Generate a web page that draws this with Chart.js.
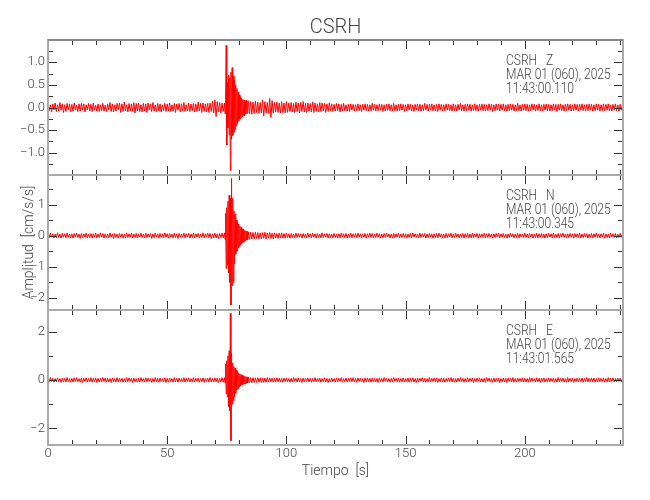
<!DOCTYPE html>
<html>
<head>
<meta charset="utf-8">
<script src="https://cdn.jsdelivr.net/npm/chart.js@4"></script>
<style>
  html, body { margin: 0; padding: 0; background: #fff; }
  #wrap { width: 650px; height: 500px; }
</style>
</head>
<body>
<div id="wrap"><canvas id="seis" width="650" height="500"></canvas></div>
<script>
// traces are stored in three pieces: before the event, the event itself
// (sampled more finely) and the coda / rest of the record
const beforeInterval = 0.5;   // s, from 0 s
const eventStart = 74;        // s
const eventInterval = 0.25;   // s
const afterStart = 84;        // s
const afterInterval = 0.5;    // s
const timeMax = 241.2;

const chartTitle = 'CSRH';
const xTitle = 'Tiempo  [s]';
const yTitle = 'Amplitud  [cm/s/s]';

const channelNames = ['CSRH   Z', 'CSRH   N', 'CSRH   E'];
const channelDates = ['MAR 01 (060), 2025', 'MAR 01 (060), 2025', 'MAR 01 (060), 2025'];
const channelStarts = ['11:43:00.110', '11:43:00.345', '11:43:01.565'];

// ---- vertical component (cm/s/s) ----
const zBefore = [
  0.09,-0.07,0.06,-0.1,0.08,-0.05,0.1,-0.09,0.06,-0.08,0.11,-0.06,0.08,-0.11,0.06,-0.09,0.09,-0.05,0.08,-0.1,
  0.07,-0.08,0.1,-0.06,0.05,-0.09,0.08,-0.08,0.09,-0.06,0.08,-0.1,0.06,-0.05,0.09,-0.08,0.07,-0.09,0.1,-0.06,
  0.05,-0.08,0.08,-0.09,0.06,-0.07,0.09,-0.08,0.05,-0.09,0.08,-0.06,0.11,-0.09,0.08,-0.1,0.06,-0.08,0.09,-0.05,
  0.1,-0.11,0.08,-0.09,0.12,-0.08,0.06,-0.1,0.09,-0.08,0.08,-0.09,0.11,-0.12,0.09,-0.08,0.1,-0.09,0.06,-0.1,
  0.09,-0.08,0.08,-0.11,0.1,-0.06,0.08,-0.09,0.11,-0.08,0.06,-0.09,0.09,-0.08,0.08,-0.1,0.06,-0.07,0.09,-0.09,
  0.08,-0.08,0.1,-0.09,0.06,-0.08,0.09,-0.11,0.08,-0.06,0.09,-0.1,0.08,-0.08,0.11,-0.09,0.06,-0.08,0.1,-0.09,
  0.08,-0.07,0.09,-0.1,0.08,-0.09,0.12,-0.08,0.09,-0.11,0.1,-0.09,0.08,-0.1,0.09,-0.11,0.1,-0.09,0.14,-0.12,
  0.17,-0.2,0.13,-0.1,0.11,-0.12,0.1,-0.09
];
const zEvent = [
  0.1,-0.14,0.18,1.37,-0.83,0.55,-0.45,0.72,-0.6,0.65,
  -1.39,0.78,-0.7,0.88,-0.62,0.7,-0.55,0.6,-0.48,0.5,
  -0.4,0.42,-0.35,0.34,-0.3,0.28,-0.26,0.24,-0.22,0.2,
  -0.2,0.18,-0.17,0.16,-0.18,0.15,-0.14,0.16,-0.13,0.14
];
const zAfter = [
  0.15,-0.14,0.13,-0.15,0.12,-0.13,0.14,-0.11,0.12,-0.13,0.11,-0.12,
  0.17,-0.19,0.13,-0.12,0.11,-0.13,0.2,-0.22,0.15,-0.12,0.11,-0.1,0.12,-0.11,0.1,-0.12,0.13,-0.11,0.1,-0.12,
  0.13,-0.11,0.1,-0.09,0.11,-0.1,0.09,-0.11,0.12,-0.09,0.1,-0.12,0.11,-0.09,0.13,-0.1,0.09,-0.11,0.1,-0.08,
  0.09,-0.1,0.12,-0.11,0.1,-0.09,0.08,-0.1,0.11,-0.09,0.1,-0.08,0.09,-0.11,0.08,-0.09,0.1,-0.07,0.08,-0.09,
  0.07,-0.08,0.09,-0.07,0.08,-0.1,0.07,-0.08,0.09,-0.07,0.06,-0.08,0.07,-0.09,0.08,-0.06,0.07,-0.08,0.06,-0.07,
  0.08,-0.07,0.06,-0.09,0.07,-0.06,0.08,-0.07,0.07,-0.08,0.06,-0.07,0.09,-0.06,0.07,-0.08,0.06,-0.07,0.08,-0.06,
  0.07,-0.09,0.06,-0.08,0.07,-0.06,0.08,-0.07,0.06,-0.08,0.09,-0.07,0.06,-0.08,0.07,-0.07,0.08,-0.06,0.07,-0.09,
  0.06,-0.07,0.08,-0.06,0.07,-0.08,0.06,-0.09,0.07,-0.06,0.08,-0.07,0.07,-0.08,0.06,-0.07,0.09,-0.06,0.07,-0.08,
  0.07,-0.06,0.08,-0.07,0.06,-0.08,0.07,-0.09,0.08,-0.06,0.07,-0.08,0.06,-0.07,0.08,-0.06,0.07,-0.07,0.06,-0.08,
  0.08,-0.07,0.06,-0.08,0.07,-0.06,0.09,-0.07,0.06,-0.08,0.07,-0.07,0.08,-0.06,0.07,-0.08,0.06,-0.07,0.08,-0.07,
  0.06,-0.08,0.07,-0.06,0.08,-0.07,0.07,-0.08,0.06,-0.07,0.08,-0.06,0.07,-0.09,0.06,-0.07,0.08,-0.06,0.07,-0.08,
  0.07,-0.06,0.08,-0.07,0.06,-0.08,0.07,-0.07,0.08,-0.06,0.07,-0.08,0.06,-0.07,0.09,-0.07,0.06,-0.08,0.07,-0.06,
  0.08,-0.07,0.07,-0.08,0.06,-0.07,0.08,-0.06,0.07,-0.08,0.06,-0.07,0.08,-0.07,0.06,-0.08,0.07,-0.06,0.08,-0.07,
  0.07,-0.08,0.06,-0.07,0.08,-0.06,0.07,-0.09,0.07,-0.06,0.08,-0.07,0.06,-0.08,0.07,-0.07,0.08,-0.06,0.07,-0.08,
  0.06,-0.07,0.08,-0.06,0.07,-0.08,0.07,-0.06,0.08,-0.07,0.06,-0.08,0.07,-0.07,0.08,-0.06,0.07,-0.08,0.06,-0.07,
  0.08,-0.06,0.07,-0.08,0.06,-0.07,0.08,-0.07,0.07,-0.06,0.08,-0.07,0.06,-0.08,0.07,-0.06,0.08,-0.07,0.06,-0.08,
  0.07,-0.06,0.07
];

// ---- north component ----
const nBefore = [
  0.07,-0.06,0.08,-0.05,0.06,-0.08,0.05,-0.07,0.09,-0.06,0.05,-0.08,0.07,-0.05,0.06,-0.07,0.08,-0.06,0.05,-0.07,
  0.06,-0.08,0.07,-0.05,0.08,-0.06,0.05,-0.09,0.07,-0.06,0.06,-0.05,0.08,-0.07,0.05,-0.06,0.07,-0.08,0.06,-0.05,
  0.08,-0.07,0.05,-0.06,0.09,-0.05,0.07,-0.08,0.06,-0.06,0.05,-0.07,0.08,-0.05,0.06,-0.09,0.07,-0.06,0.05,-0.08,
  0.07,-0.05,0.06,-0.08,0.05,-0.07,0.09,-0.06,0.06,-0.05,0.08,-0.07,0.05,-0.06,0.07,-0.08,0.06,-0.05,0.08,-0.06,
  0.05,-0.07,0.08,-0.06,0.06,-0.05,0.07,-0.09,0.05,-0.06,0.08,-0.05,0.06,-0.08,0.07,-0.06,0.05,-0.07,0.09,-0.05,
  0.06,-0.08,0.07,-0.05,0.05,-0.07,0.08,-0.06,0.06,-0.09,0.07,-0.05,0.05,-0.06,0.08,-0.07,0.06,-0.05,0.07,-0.08,
  0.05,-0.06,0.08,-0.07,0.06,-0.05,0.07,-0.08,0.05,-0.06,0.09,-0.07,0.06,-0.05,0.08,-0.06,0.07,-0.09,0.06,-0.07,
  0.08,-0.07,0.06,-0.09,0.07,-0.06,0.08,-0.07
];
const nEvent = [
  0.09,-0.12,0.72,-1.06,0.9,-0.95,1.1,-1.2,1.3,-1.5,
  1.2,-2.23,1.84,-1.6,1.2,-1.5,0.8,-0.9,0.7,-0.6,
  0.5,-0.5,0.45,-0.4,0.38,-0.35,0.3,-0.3,0.27,-0.25,
  0.22,-0.22,0.2,-0.18,0.17,-0.17,0.15,-0.14,0.14,-0.13
];
const nAfter = [
  0.12,-0.12,0.11,-0.11,0.1,-0.1,0.11,-0.09,0.1,-0.1,0.09,-0.1,
  0.1,-0.09,0.11,-0.1,0.09,-0.08,0.1,-0.09,0.08,-0.1,0.09,-0.08,0.07,-0.09,0.08,-0.07,0.09,-0.08,0.07,-0.08,
  0.08,-0.07,0.06,-0.08,0.07,-0.06,0.05,-0.07,0.08,-0.06,0.07,-0.05,0.06,-0.08,0.07,-0.06,0.05,-0.07,0.08,-0.06,
  0.06,-0.07,0.08,-0.05,0.06,-0.08,0.07,-0.06,0.05,-0.07,0.09,-0.06,0.06,-0.05,0.07,-0.08,0.06,-0.06,0.05,-0.07,
  0.07,-0.06,0.05,-0.08,0.06,-0.07,0.08,-0.05,0.06,-0.06,0.07,-0.08,0.05,-0.06,0.08,-0.07,0.06,-0.05,0.07,-0.06,
  0.08,-0.05,0.06,-0.07,0.05,-0.06,0.07,-0.08,0.06,-0.05,0.08,-0.06,0.07,-0.07,0.05,-0.06,0.08,-0.05,0.06,-0.08,
  0.05,-0.07,0.07,-0.06,0.08,-0.05,0.06,-0.07,0.05,-0.08,0.07,-0.06,0.06,-0.05,0.08,-0.07,0.05,-0.06,0.07,-0.05,
  0.06,-0.08,0.05,-0.06,0.07,-0.07,0.08,-0.05,0.06,-0.06,0.05,-0.07,0.08,-0.06,0.06,-0.05,0.07,-0.08,0.05,-0.06,
  0.07,-0.05,0.06,-0.08,0.05,-0.06,0.07,-0.07,0.08,-0.05,0.06,-0.06,0.05,-0.08,0.07,-0.06,0.06,-0.05,0.08,-0.07,
  0.05,-0.06,0.08,-0.05,0.06,-0.07,0.05,-0.06,0.07,-0.08,0.06,-0.05,0.07,-0.06,0.05,-0.07,0.08,-0.06,0.06,-0.05,
  0.07,-0.08,0.06,-0.05,0.05,-0.06,0.08,-0.07,0.06,-0.06,0.07,-0.05,0.05,-0.08,0.06,-0.06,0.07,-0.05,0.08,-0.07,
  0.06,-0.05,0.07,-0.06,0.05,-0.08,0.06,-0.06,0.08,-0.05,0.06,-0.07,0.05,-0.06,0.07,-0.08,0.06,-0.05,0.05,-0.06,
  0.08,-0.06,0.05,-0.07,0.07,-0.05,0.06,-0.08,0.05,-0.06,0.08,-0.07,0.06,-0.05,0.07,-0.06,0.05,-0.08,0.06,-0.06,
  0.07,-0.05,0.06,-0.07,0.08,-0.06,0.05,-0.06,0.07,-0.08,0.06,-0.05,0.08,-0.06,0.05,-0.07,0.06,-0.06,0.07,-0.05,
  0.06,-0.08,0.07,-0.05,0.06,-0.06,0.08,-0.07,0.05,-0.06,0.07,-0.05,0.06,-0.08,0.05,-0.06,0.07,-0.07,0.06,-0.05,
  0.08,-0.06,0.05,-0.07,0.06,-0.05,0.07,-0.08,0.06,-0.06,0.05,-0.07,0.08,-0.05,0.06,-0.06,0.07,-0.08,0.05,-0.06,
  0.07,-0.05,0.06
];

// ---- east component ----
const eBefore = [
  0.08,-0.07,0.1,-0.06,0.07,-0.09,0.06,-0.08,0.09,-0.07,0.06,-0.1,0.08,-0.06,0.07,-0.08,0.1,-0.07,0.06,-0.09,
  0.07,-0.08,0.09,-0.06,0.1,-0.07,0.06,-0.09,0.08,-0.1,0.07,-0.06,0.09,-0.08,0.06,-0.07,0.1,-0.09,0.07,-0.06,
  0.09,-0.1,0.07,-0.08,0.06,-0.07,0.1,-0.06,0.08,-0.09,0.07,-0.08,0.06,-0.1,0.09,-0.07,0.06,-0.08,0.1,-0.07,
  0.08,-0.06,0.07,-0.09,0.06,-0.08,0.1,-0.07,0.09,-0.06,0.07,-0.1,0.08,-0.07,0.06,-0.09,0.07,-0.08,0.1,-0.06,
  0.06,-0.08,0.09,-0.07,0.08,-0.06,0.07,-0.1,0.06,-0.08,0.1,-0.07,0.07,-0.09,0.08,-0.06,0.06,-0.07,0.09,-0.1,
  0.07,-0.09,0.08,-0.06,0.06,-0.08,0.1,-0.07,0.07,-0.09,0.08,-0.06,0.06,-0.07,0.1,-0.08,0.07,-0.06,0.09,-0.08,
  0.06,-0.07,0.1,-0.08,0.07,-0.06,0.08,-0.09,0.06,-0.07,0.09,-0.1,0.07,-0.06,0.08,-0.08,0.1,-0.07,0.06,-0.08,
  0.09,-0.07,0.08,-0.1,0.07,-0.08,0.1,-0.09
];
const eEvent = [
  0.1,-0.12,0.66,-0.58,0.8,-0.7,1.0,-1.1,1.21,-1.27,
  2.76,-2.51,1.1,-1.0,0.7,-0.86,0.55,-0.7,0.5,-0.55,
  0.4,-0.4,0.35,-0.35,0.3,-0.28,0.25,-0.24,0.22,-0.2,
  0.2,-0.18,0.17,-0.16,0.15,-0.15,0.14,-0.13,0.13,-0.12
];
const eAfter = [
  0.12,-0.11,0.1,-0.11,0.1,-0.1,0.09,-0.1,0.1,-0.09,0.09,-0.1,
  0.09,-0.1,0.08,-0.09,0.1,-0.08,0.09,-0.07,0.08,-0.09,0.07,-0.08,0.09,-0.07,0.08,-0.08,0.07,-0.09,0.08,-0.07,
  0.08,-0.07,0.06,-0.09,0.07,-0.08,0.1,-0.06,0.07,-0.08,0.09,-0.07,0.06,-0.1,0.08,-0.07,0.07,-0.06,0.09,-0.08,
  0.07,-0.09,0.06,-0.07,0.1,-0.08,0.07,-0.06,0.08,-0.09,0.06,-0.07,0.09,-0.08,0.07,-0.1,0.06,-0.08,0.08,-0.07,
  0.06,-0.08,0.09,-0.07,0.07,-0.06,0.1,-0.09,0.06,-0.07,0.08,-0.08,0.07,-0.06,0.09,-0.07,0.1,-0.08,0.06,-0.09,
  0.09,-0.06,0.07,-0.08,0.06,-0.1,0.08,-0.07,0.09,-0.06,0.07,-0.09,0.08,-0.07,0.06,-0.08,0.07,-0.1,0.09,-0.06,
  0.07,-0.08,0.1,-0.06,0.08,-0.07,0.06,-0.09,0.07,-0.08,0.1,-0.06,0.07,-0.07,0.08,-0.09,0.06,-0.07,0.09,-0.08,
  0.06,-0.07,0.08,-0.09,0.07,-0.06,0.09,-0.08,0.06,-0.1,0.08,-0.07,0.07,-0.06,0.1,-0.08,0.07,-0.09,0.06,-0.07,
  0.1,-0.08,0.07,-0.06,0.09,-0.07,0.08,-0.1,0.06,-0.07,0.09,-0.08,0.07,-0.09,0.06,-0.06,0.08,-0.07,0.1,-0.08,
  0.07,-0.09,0.06,-0.08,0.08,-0.06,0.1,-0.07,0.07,-0.09,0.06,-0.08,0.09,-0.07,0.07,-0.06,0.08,-0.1,0.06,-0.07,
  0.08,-0.06,0.09,-0.07,0.06,-0.08,0.07,-0.09,0.1,-0.06,0.08,-0.07,0.06,-0.09,0.09,-0.08,0.07,-0.06,0.08,-0.1,
  0.06,-0.07,0.08,-0.08,0.07,-0.1,0.09,-0.06,0.07,-0.07,0.1,-0.09,0.06,-0.08,0.08,-0.06,0.07,-0.07,0.09,-0.08,
  0.07,-0.08,0.06,-0.09,0.1,-0.07,0.08,-0.06,0.06,-0.08,0.09,-0.07,0.07,-0.1,0.08,-0.06,0.09,-0.08,0.06,-0.07,
  0.09,-0.07,0.07,-0.06,0.08,-0.09,0.06,-0.08,0.1,-0.07,0.07,-0.06,0.08,-0.08,0.06,-0.09,0.1,-0.07,0.07,-0.06,
  0.08,-0.1,0.06,-0.07,0.09,-0.08,0.07,-0.06,0.08,-0.09,0.06,-0.07,0.1,-0.08,0.07,-0.06,0.09,-0.07,0.08,-0.09,
  0.06,-0.08,0.09,-0.07,0.07,-0.06,0.08,-0.09,0.06,-0.07,0.1,-0.08,0.07,-0.06,0.09,-0.08,0.06,-0.07,0.08,-0.06,
  0.07,-0.08,0.06
];

// axis ranges and tick labels
const rangeZ = [-1.49, 1.49];
const rangeN = [-2.39, 1.95];
const rangeE = [-2.69, 2.90];
const ticksZ = [-1.0, -0.5, 0.0, 0.5, 1.0];
const labelsZ = ['\u22121.0', '\u22120.5', '0.0', '0.5', '1.0'];
const ticksN = [-2, -1, 0, 1];
const labelsN = ['\u22122', '\u22121', '0', '1'];
const ticksE = [-2, 0, 2];
const labelsE = ['\u22122', '0', '2'];
const timeTicks = [0, 50, 100, 150, 200];
const timeLabels = ['0', '50', '100', '150', '200'];

const FONT = "Roboto, 'Liberation Sans', sans-serif";
const TEXT = '#444';

function toPoints(before, event, after) {
  const pts = [];
  before.forEach((v, i) => pts.push({ x: i * beforeInterval, y: v }));
  event.forEach((v, i) => pts.push({ x: eventStart + i * eventInterval, y: v }));
  after.forEach((v, i) => pts.push({ x: afterStart + i * afterInterval, y: v }));
  return pts;
}

function panelScale(range, ticks, labels, extra) {
  return Object.assign({
    type: 'linear',
    position: 'left',
    stack: 'traces',
    stackWeight: 1,
    min: range[0],
    max: range[1],
    grid: { display: false, drawTicks: false },
    border: { display: false },
    ticks: {
      color: TEXT,
      font: { family: FONT, size: 13, weight: '300' },
      padding: 3,
      callback: (value) => labels[ticks.indexOf(value)]
    },
    afterBuildTicks: (s) => { s.ticks = ticks.map(v => ({ value: v })); },
    afterFit: (s) => { s.width = 48; }
  }, extra || {});
}

// tick spacing per panel for the inward tick marks
const panelTicks = [
  { id: 'yZ', minor: 0.25, major: 0.5 },
  { id: 'yN', minor: 0.5, major: 1 },
  { id: 'yE', minor: 1, major: 2 }
];

const framePlugin = {
  id: 'frame',
  afterDatasetsDraw(chart) {
    const ctx = chart.ctx;
    const xs = chart.scales.x;
    const left = xs.left, right = xs.right;
    ctx.save();
    panelTicks.forEach((p, n) => {
      const ys = chart.scales[p.id];
      const top = ys.top, bottom = ys.bottom;

      ctx.strokeStyle = '#333';
      ctx.lineWidth = 1;
      ctx.beginPath();
      for (let v = 0; v <= xs.max; v += 10) {
        const x = Math.round(xs.getPixelForValue(v)) + 0.5;
        const len = v % 50 === 0 ? 9 : 5;
        ctx.moveTo(x, top); ctx.lineTo(x, top + len);
        ctx.moveTo(x, bottom); ctx.lineTo(x, bottom - len);
      }
      const k0 = Math.ceil(ys.min / p.minor - 1e-6);
      for (let k = k0; k * p.minor <= ys.max + 1e-9; k++) {
        const v = k * p.minor;
        const r = v / p.major;
        const len = Math.abs(r - Math.round(r)) < 1e-6 ? 9 : 5;
        const y = Math.round(ys.getPixelForValue(v)) + 0.5;
        ctx.moveTo(left, y); ctx.lineTo(left + len, y);
        ctx.moveTo(right, y); ctx.lineTo(right - len, y);
      }
      ctx.stroke();

      ctx.lineWidth = 2;
      ctx.strokeStyle = '#aaa';
      ctx.strokeRect(left, top, right - left, bottom - top);
      if (n === 0) {
        ctx.strokeStyle = '#888';
        ctx.beginPath();
        ctx.moveTo(left, top); ctx.lineTo(right, top);
        ctx.stroke();
      }

      // channel header, narrowed to match the plotting font
      ctx.fillStyle = TEXT;
      ctx.font = '300 14px ' + FONT;
      ctx.textBaseline = 'middle';
      ctx.textAlign = 'left';
      const lines = [channelNames[n], channelDates[n], channelStarts[n]];
      lines.forEach((txt, j) => {
        ctx.save();
        ctx.translate(right - 117, top + 21 + j * 14.3);
        ctx.scale(0.86, 1);
        ctx.fillText(txt, 0, 0);
        ctx.restore();
      });
    });
    ctx.restore();
  }
};

function trace(points, axis) {
  return {
    data: points,
    yAxisID: axis,
    borderColor: '#ff0000',
    borderWidth: 1,
    pointRadius: 0,
    fill: false,
    tension: 0
  };
}

new Chart(document.getElementById('seis'), {
  type: 'line',
  data: {
    datasets: [
      trace(toPoints(zBefore, zEvent, zAfter), 'yZ'),
      trace(toPoints(nBefore, nEvent, nAfter), 'yN'),
      trace(toPoints(eBefore, eEvent, eAfter), 'yE')
    ]
  },
  options: {
    responsive: false,
    animation: false,
    devicePixelRatio: 1,
    layout: { padding: { left: 0, right: 27, top: 0, bottom: 0 } },
    plugins: {
      legend: { display: false },
      tooltip: { enabled: false },
      title: {
        display: true,
        fullSize: false,
        text: chartTitle,
        color: TEXT,
        font: { family: FONT, size: 20, weight: '300', lineHeight: 1 },
        padding: { top: 18, bottom: 2 }
      }
    },
    scales: {
      yE: panelScale(rangeE, ticksE, labelsE),
      yN: panelScale(rangeN, ticksN, labelsN, {
        title: {
          display: true,
          text: yTitle,
          color: TEXT,
          font: { family: FONT, size: 14, weight: '300' },
          padding: { top: 21, bottom: 0 }
        }
      }),
      yZ: panelScale(rangeZ, ticksZ, labelsZ),
      x: {
        type: 'linear',
        position: 'bottom',
        min: 0,
        max: timeMax,
        grid: { display: false, drawTicks: false },
        border: { display: false },
        ticks: {
          color: TEXT,
          font: { family: FONT, size: 13, weight: '300' },
          padding: 1,
          maxRotation: 0,
          callback: (value) => timeLabels[timeTicks.indexOf(value)]
        },
        afterBuildTicks: (s) => { s.ticks = timeTicks.map(v => ({ value: v })); },
        afterFit: (s) => { s.height = 55; },
        title: {
          display: true,
          text: xTitle,
          color: TEXT,
          font: { family: FONT, size: 14, weight: '300' },
          padding: { top: 0, bottom: 20 }
        }
      }
    }
  },
  plugins: [framePlugin]
});
</script>
</body>
</html>
